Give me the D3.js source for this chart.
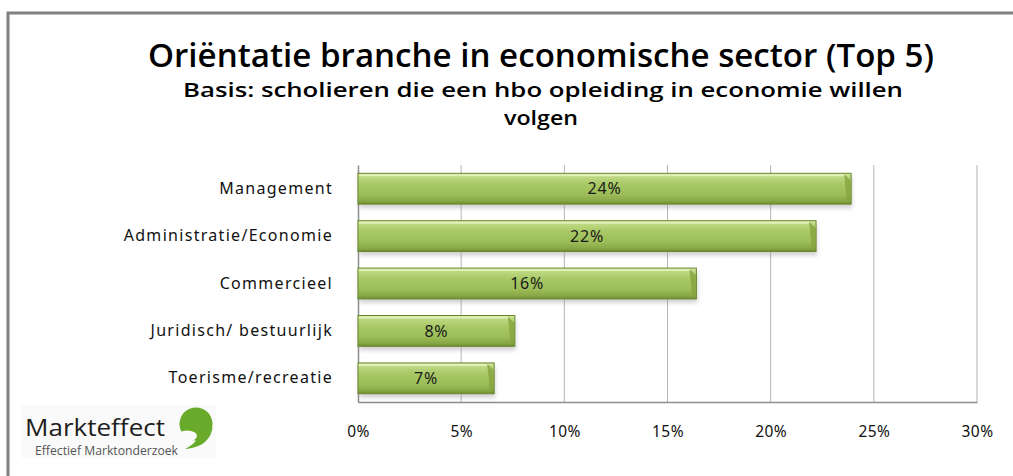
<!DOCTYPE html>
<html>
<head>
<meta charset="utf-8">
<script src="https://cdn.jsdelivr.net/npm/d3@7"></script>
<style>
  html, body { margin: 0; padding: 0; background: #fff; }
  svg { display: block; }
</style>
</head>
<body>
<div class="chart-container"></div>
<script>
// data
const categories = ["Management", "Administratie/Economie", "Commercieel", "Juridisch/ bestuurlijk", "Toerisme/recreatie"];
const values = [23.9, 22.2, 16.4, 7.6, 6.6];
const labels = ["24%", "22%", "16%", "8%", "7%"];
const ticks = [0, 5, 10, 15, 20, 25, 30];

const width = 1013;
const height = 476;

const svg = d3.select(".chart-container")
  .append("svg")
  .attr("width", width)
  .attr("height", height);

const defs = svg.append("defs");

// bar gradient
const grad = defs.append("linearGradient")
  .attr("id", "barGrad")
  .attr("x1", 0).attr("y1", 0).attr("x2", 0).attr("y2", 1);
[[0, "#d6eaa6"], [0.1, "#bfd985"], [0.35, "#a8c965"], [0.7, "#9cbc58"], [0.9, "#88a746"], [1, "#6e8c31"]]
  .forEach(s => grad.append("stop").attr("offset", s[0]).attr("stop-color", s[1]));

const shadow = defs.append("filter").attr("id", "shadow")
  .attr("x", "-5%").attr("y", "-20%").attr("width", "110%").attr("height", "160%");
shadow.append("feGaussianBlur").attr("stdDeviation", 2);

// outer frame
svg.append("path")
  .attr("d", "M8,476 V13 H1013")
  .attr("fill", "none")
  .attr("stroke", "#808080")
  .attr("stroke-width", 3);

// titles
svg.append("text")
  .attr("x", 148).attr("y", 67)
  .attr("textLength", 786).attr("lengthAdjust", "spacingAndGlyphs")
  .style("font-family", "'Open Sans', sans-serif")
  .style("font-weight", 600)
  .style("font-size", "32px")
  .attr("fill", "#000")
  .text("Oriëntatie branche in economische sector (Top 5)");

svg.append("text")
  .attr("x", 183).attr("y", 97)
  .attr("textLength", 720).attr("lengthAdjust", "spacingAndGlyphs")
  .style("font-family", "'Open Sans', sans-serif")
  .style("font-weight", 600)
  .style("font-size", "20px")
  .attr("fill", "#000")
  .text("Basis: scholieren die een hbo opleiding in economie willen");

svg.append("text")
  .attr("x", 541).attr("y", 125)
  .attr("text-anchor", "middle")
  .attr("textLength", 74).attr("lengthAdjust", "spacingAndGlyphs")
  .style("font-family", "'Open Sans', sans-serif")
  .style("font-weight", 600)
  .style("font-size", "20px")
  .attr("fill", "#000")
  .text("volgen");

// scales
const x = d3.scaleLinear().domain([0, 30]).range([358, 977]);
const y = d3.scaleBand().domain(categories).range([165, 402]).paddingInner(0.35).paddingOuter(0.175);

// grid lines
svg.append("g")
  .selectAll("line")
  .data(ticks.slice(1))
  .join("line")
  .attr("x1", d => x(d)).attr("x2", d => x(d))
  .attr("y1", 165).attr("y2", 402)
  .attr("stroke", "#b5b5b5")
  .attr("stroke-width", 1);

// x axis
const xAxis = svg.append("g")
  .attr("transform", "translate(0,402)")
  .call(d3.axisBottom(x).tickValues(ticks).tickFormat(d => d + "%").tickSize(0).tickPadding(24));
xAxis.select(".domain").attr("stroke", "#8c8c8c").attr("stroke-width", 1.5);
xAxis.selectAll("text")
  .style("font-family", "'Noto Sans', sans-serif")
  .style("font-size", "15.5px")
  .style("letter-spacing", "0.4px")
  .attr("fill", "#111");

// y axis
const yAxis = svg.append("g")
  .attr("transform", "translate(358,0)")
  .call(d3.axisLeft(y).tickSize(0).tickPadding(25));
yAxis.select(".domain").attr("stroke", "#8c8c8c").attr("stroke-width", 1.5);
yAxis.selectAll("text")
  .style("font-family", "'Noto Sans', sans-serif")
  .style("font-size", "16px")
  .style("letter-spacing", "1.3px")
  .attr("fill", "#111");

const rows = categories.map((c, i) => ({ cat: c, v: values[i], label: labels[i] }));
const bh = y.bandwidth();

// shadows
svg.append("g")
  .selectAll("rect")
  .data(rows)
  .join("rect")
  .attr("x", x(0) + 1)
  .attr("y", d => y(d.cat) + 4)
  .attr("width", d => x(d.v) - x(0))
  .attr("height", bh)
  .attr("fill", "#9a9a9a")
  .attr("opacity", 0.45)
  .attr("filter", "url(#shadow)");

const bars = svg.append("g")
  .selectAll("g")
  .data(rows)
  .join("g");

bars.append("rect")
  .attr("x", x(0))
  .attr("y", d => y(d.cat))
  .attr("width", d => x(d.v) - x(0))
  .attr("height", bh)
  .attr("fill", "url(#barGrad)")
  .attr("stroke", "#6a872c")
  .attr("stroke-width", 1);

// bevelled right end
bars.append("path")
  .attr("d", d => {
    const xr = x(d.v), yt = y(d.cat);
    return `M${xr - 7},${yt + 1} L${xr - 0.5},${yt + 7} L${xr - 0.5},${yt + bh - 4} L${xr - 4},${yt + bh - 1} Z`;
  })
  .attr("fill", "#86a43f")
  .attr("opacity", 0.8);

bars.append("line")
  .attr("x1", x(0) + 1)
  .attr("x2", d => x(d.v) - 7)
  .attr("y1", d => y(d.cat) + 2)
  .attr("y2", d => y(d.cat) + 2)
  .attr("stroke", "#e0f0b8")
  .attr("stroke-width", 2);

bars.append("text")
  .attr("x", d => (x(0) + x(d.v)) / 2)
  .attr("y", d => y(d.cat) + bh / 2)
  .attr("dy", "0.36em")
  .attr("text-anchor", "middle")
  .style("font-family", "'Noto Sans', sans-serif")
  .style("font-size", "16px")
  .style("letter-spacing", "0.8px")
  .attr("fill", "#1a1a1a")
  .text(d => d.label);

// logo
const logo = svg.append("g");
logo.append("rect")
  .attr("x", 21).attr("y", 405).attr("width", 195).attr("height", 53)
  .attr("fill", "#fafafa");
logo.append("text")
  .attr("x", 25).attr("y", 436)
  .attr("textLength", 140).attr("lengthAdjust", "spacingAndGlyphs")
  .style("font-family", "'Open Sans', sans-serif")
  .style("font-size", "23px")
  .attr("fill", "#1e1e1e")
  .text("Markteffect");
logo.append("text")
  .attr("x", 35).attr("y", 455)
  .attr("textLength", 143).attr("lengthAdjust", "spacingAndGlyphs")
  .style("font-family", "'Open Sans', sans-serif")
  .style("font-size", "12px")
  .attr("fill", "#555")
  .text("Effectief Marktonderzoek");
logo.append("circle")
  .attr("cx", 196).attr("cy", 424).attr("r", 16.5)
  .attr("fill", "#6aaa2a");
logo.append("path")
  .attr("d", "M212.5,427 C211,441 200,448 185,449 C194,444 198,440 198,434 Z")
  .attr("fill", "#6aaa2a");
logo.append("ellipse")
  .attr("cx", 187).attr("cy", 436).attr("rx", 10).attr("ry", 5.5)
  .attr("fill", "#fafafa");
</script>
</body>
</html>
